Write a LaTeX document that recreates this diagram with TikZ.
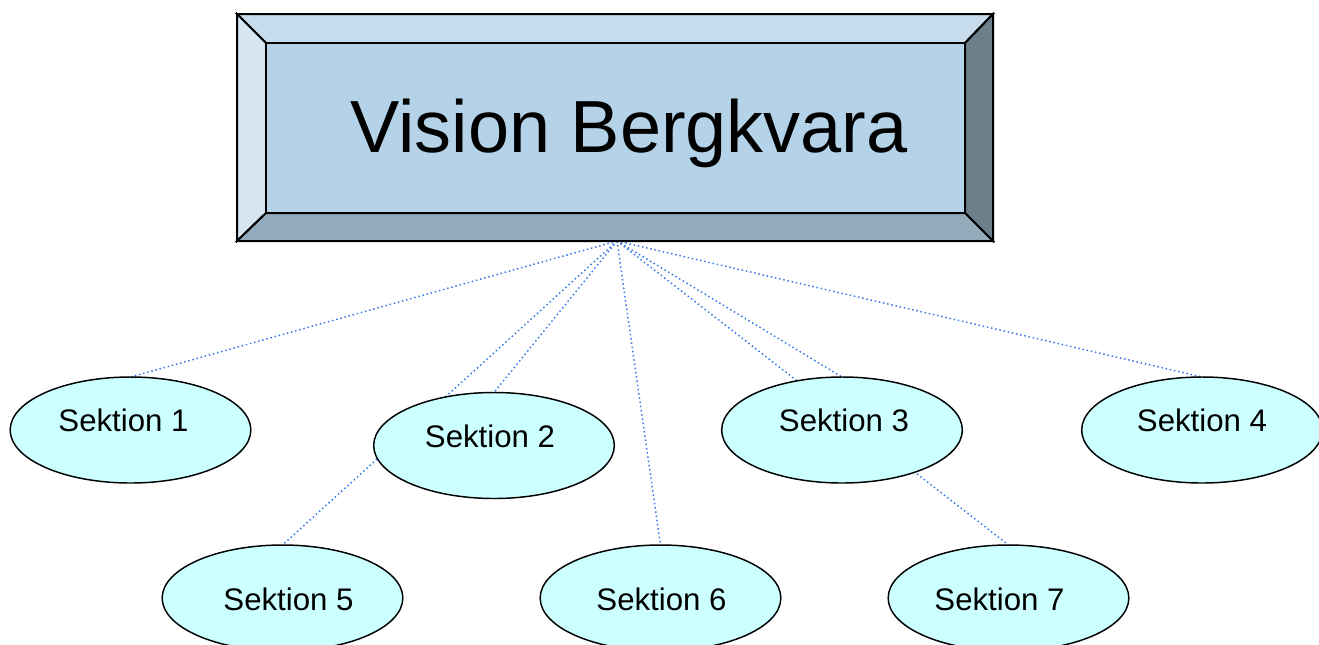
\documentclass[tikz,border=0pt]{standalone}
\usepackage{fontspec}
\setmainfont{Liberation Sans}
\usetikzlibrary{shapes.geometric,backgrounds}
\definecolor{facecolor}{HTML}{B4D3E8}
\definecolor{topcolor}{HTML}{C6DCEC}
\definecolor{leftcolor}{HTML}{D5E6F2}
\definecolor{rightcolor}{HTML}{6D7F8B}
\definecolor{bottomcolor}{HTML}{94AABB}
\definecolor{sektioncolor}{HTML}{CCFFFF}
\definecolor{linecolor}{HTML}{3377E6}
\colorlet{bordercolor}{black}
\newcommand{\sektionfont}{\fontsize{23.4}{28}\selectfont}
\tikzset{bevel/.style={draw=bordercolor, line width=1.5pt, line join=miter},%
    sektion/.style={shape=ellipse, draw=bordercolor, line width=1.1pt, fill=sektioncolor, minimum width=180.5pt, minimum height=79.5pt, inner sep=0pt, outer sep=0pt},%
    conn/.style={-, color=linecolor, line width=1.1pt, dash pattern=on 1.1pt off 2.1pt}%
}
\begin{document}
\begin{tikzpicture}[x=0.75pt, y=-0.75pt]
    \useasboundingbox (0,0) rectangle (1319,644);
    \begin{scope} %draw the bevelled box
        \filldraw[bevel, fill=topcolor] (237,14) -- (993,14) -- (965,43) -- (266,43) -- cycle;
        \filldraw[bevel, fill=leftcolor] (237,14) -- (266,43) -- (266,213) -- (237,241) -- cycle;
        \filldraw[bevel, fill=rightcolor] (993,14) -- (993,241) -- (965,213) -- (965,43) -- cycle;
        \filldraw[bevel, fill=bottomcolor] (237,241) -- (993,241) -- (965,213) -- (266,213) -- cycle;
        \filldraw[bevel, fill=facecolor] (266,43) rectangle (965,213);
        \node[font=\fontsize{55.4}{66}\selectfont] (vision) at (629,133) {Vision Bergkvara};
        \coordinate (apex) at (617,241);
    \end{scope}
    \begin{scope} %draw sections
        \foreach \nodename/\num/\xpos/\ypos/\dx/\dy in {%
                s1/1/130.5/430/-5.25pt/7pt,
                s2/2/494/445.5/-3pt/7pt,
                s3/3/842/430/1.5pt/7pt,
                s4/4/1202/430/0pt/7pt,
                s5/5/282.5/598/4.5pt/-1pt,
                s6/6/660.5/598/0.75pt/-1pt,
                s7/7/1008.5/598/-6.75pt/-1pt
            } \node[sektion, label={[font=\sektionfont, xshift=\dx, yshift=\dy]center:Sektion \num}] (\nodename) at (\xpos, \ypos) {};
    \end{scope}
    \begin{scope}[on background layer] %draw connections
        \foreach \target in {s1,s2,s3,s4,s5,s6,s7}
            \path (apex) edge[conn] (\target.north);
    \end{scope}
\end{tikzpicture}
\end{document}
